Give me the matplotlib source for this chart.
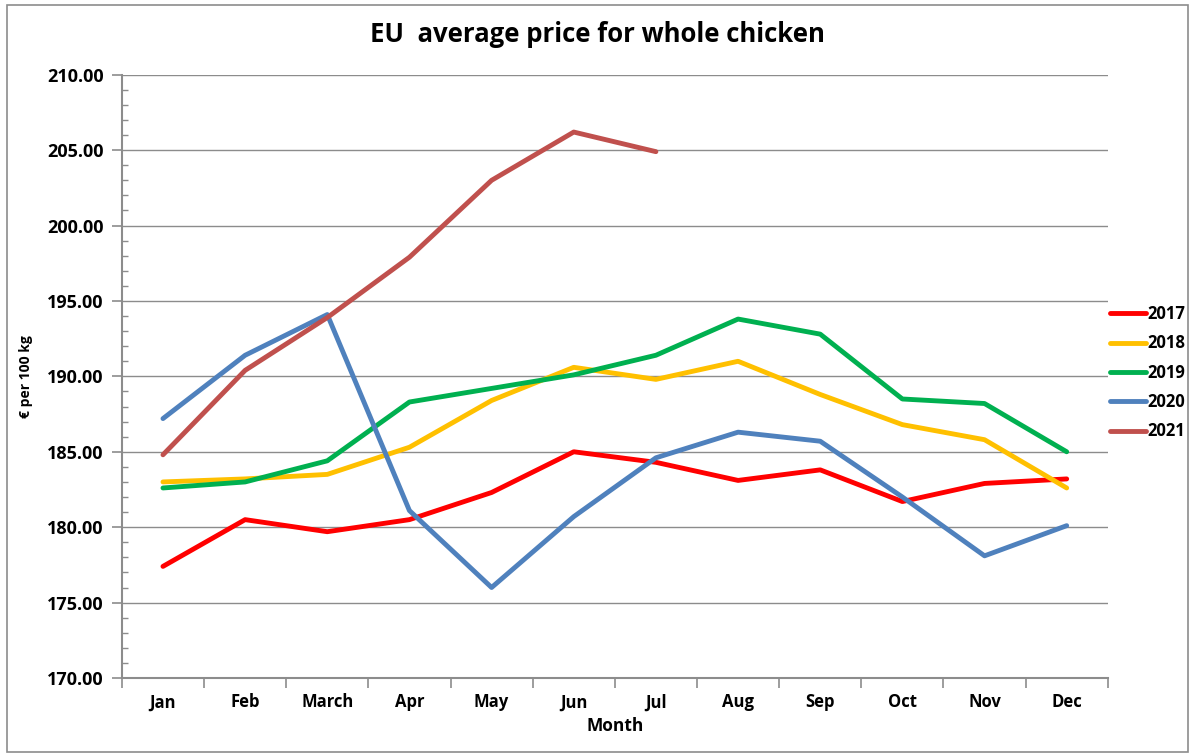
import matplotlib
matplotlib.use("Agg")
import matplotlib.pyplot as plt
import numpy as np
from matplotlib import ticker
from matplotlib.patches import Rectangle

months = ['Jan', 'Feb', 'March', 'Apr', 'May', 'Jun', 'Jul', 'Aug', 'Sep', 'Oct', 'Nov', 'Dec']
p2017 = [177.4, 180.5, 179.7, 180.5, 182.3, 185.0, 184.3, 183.1, 183.8, 181.7, 182.9, 183.2]
p2018 = [183.0, 183.2, 183.5, 185.3, 188.4, 190.6, 189.8, 191.0, 188.8, 186.8, 185.8, 182.6]
p2019 = [182.6, 183.0, 184.4, 188.3, 189.2, 190.1, 191.4, 193.8, 192.8, 188.5, 188.2, 185.0]
p2020 = [187.2, 191.4, 194.1, 181.1, 176.0, 180.7, 184.6, 186.3, 185.7, 182.0, 178.1, 180.1]
p2021 = [184.8, 190.4, 193.9, 197.9, 203.0, 206.2, 204.9]

series = [('2017', p2017, '#FF0000'),
          ('2018', p2018, '#FFC000'),
          ('2019', p2019, '#00B050'),
          ('2020', p2020, '#4F81BD'),
          ('2021', p2021, '#C0504D')]

plt.rcParams['font.family'] = ['Open Sans', 'DejaVu Sans']

fig = plt.figure(figsize=(11.95, 7.55), dpi=100)
ax = fig.add_axes([0.102, 0.102, 0.825, 0.799])

x = np.arange(len(months))
for name, vals, color in series:
    ax.plot(x[:len(vals)], vals, color=color, linewidth=3.5, label=name,
            solid_capstyle='round', zorder=3)

ax.set_xlim(-0.5, 11.5)
ax.set_ylim(170, 210)
ax.yaxis.set_major_locator(ticker.MultipleLocator(5))
ax.yaxis.set_minor_locator(ticker.MultipleLocator(1))
ax.yaxis.set_major_formatter(ticker.FormatStrFormatter('%.2f'))
ax.grid(True, axis='y', which='major', color='#8c8c8c', linewidth=1)
ax.set_axisbelow(True)

ax.set_xticks(np.arange(-0.5, 12, 1))
ax.set_xticklabels([])
ax.set_xticks(x, minor=True)
ax.set_xticklabels(months, minor=True, fontsize=12, fontweight='bold')
ax.tick_params(axis='x', which='major', direction='out', length=7, color='#8c8c8c', width=1.2)
ax.tick_params(axis='x', which='minor', length=0, pad=11)
ax.tick_params(axis='y', which='major', direction='out', length=7, color='#8c8c8c', width=1.2,
               labelsize=13, pad=6)
ax.tick_params(axis='y', which='minor', direction='in', length=4, color='#8c8c8c', width=1)
for lbl in ax.get_yticklabels():
    lbl.set_fontweight('bold')

for s in ['top', 'right']:
    ax.spines[s].set_visible(False)
for s in ['left', 'bottom']:
    ax.spines[s].set_color('#8c8c8c')
    ax.spines[s].set_linewidth(1.5)

ax.set_xlabel('Month', fontsize=12.5, fontweight='bold', labelpad=4)
ax.set_ylabel('€ per 100 kg', fontsize=10, fontweight='bold', labelpad=10)
fig.suptitle('EU  average price for whole chicken', fontsize=18.5, fontweight='bold', y=0.972)

leg = ax.legend(loc='center left', bbox_to_anchor=(0.995, 0.506), frameon=False,
                prop={'weight': 'bold', 'size': 12}, handlelength=2.2,
                handletextpad=0.1, labelspacing=0.68, borderaxespad=0)

fig.patches.append(Rectangle((0.006, 0.004), 0.988, 0.99, transform=fig.transFigure,
                             fill=False, edgecolor='#8c8c8c', linewidth=1.2))

fig.savefig('out.png', dpi=100)
